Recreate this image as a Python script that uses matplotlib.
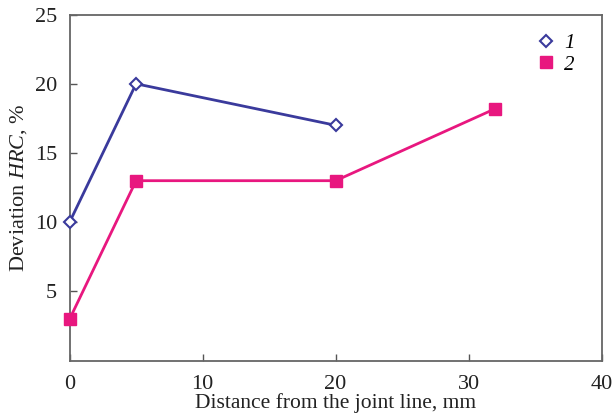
import matplotlib
matplotlib.use('Agg')
import matplotlib.pyplot as plt

plt.rcParams['font.family'] = ['Liberation Serif', 'DejaVu Serif']
plt.rcParams['mathtext.fontset'] = 'custom'
plt.rcParams['mathtext.it'] = 'Liberation Serif:italic'
plt.rcParams['mathtext.rm'] = 'Liberation Serif'

# ── 数据 ──
x1 = [0.0, 5.0, 20.0]
y1 = [10.0, 20.0, 17.0]
x2 = [0.0, 5.0, 20.0, 32.0]
y2 = [3.0, 13.0, 13.0, 18.2]

C1 = '#3a3a9c'
C2 = '#e8177f'

fig = plt.figure(figsize=(6.13, 4.16), dpi=100)
ax = fig.add_axes([0.1135, 0.133, 0.868, 0.832])

ax.plot(x1, y1, color=C1, lw=2, marker='D', ms=6, mfc='white', mec=C1,
        mew=1.5, clip_on=False, zorder=3)
ax.plot(x2, y2, color=C2, lw=2, marker='s', ms=8, mfc=C2, mec=C2,
        clip_on=False, zorder=3)

# 图例：只有标记
h1, = ax.plot([], [], ls='none', marker='D', ms=6, mfc='white', mec=C1, mew=1.5)
h2, = ax.plot([], [], ls='none', marker='s', ms=8, mfc=C2, mec=C2)
leg = ax.legend([h1, h2], ['1', '2'], loc='upper right', frameon=False,
                fontsize=15, handlelength=0.8, handletextpad=0.5,
                labelspacing=0.1, bbox_to_anchor=(0.985, 1.0))
for t in leg.get_texts():
    t.set_fontstyle('italic')

ax.set_xlim(0, 40)
ax.set_ylim(0, 25)
ax.set_xticks([0, 10, 20, 30, 40])
ax.set_yticks([5, 10, 15, 20, 25])
ax.tick_params(direction='in', length=5, width=1, colors='#555555',
               labelcolor='#222222', labelsize=16, pad=10)
ax.tick_params(axis='y', pad=9)
for s in ax.spines.values():
    s.set_color('#666666')
    s.set_linewidth(1.3)

ax.set_xlabel('Distance from the joint line, mm', fontsize=15.5, labelpad=0,
              color='#222222')
ax.set_ylabel('Deviation $HRC$, %', fontsize=16, labelpad=4, color='#222222')

fig.savefig('out.png', dpi=100)
